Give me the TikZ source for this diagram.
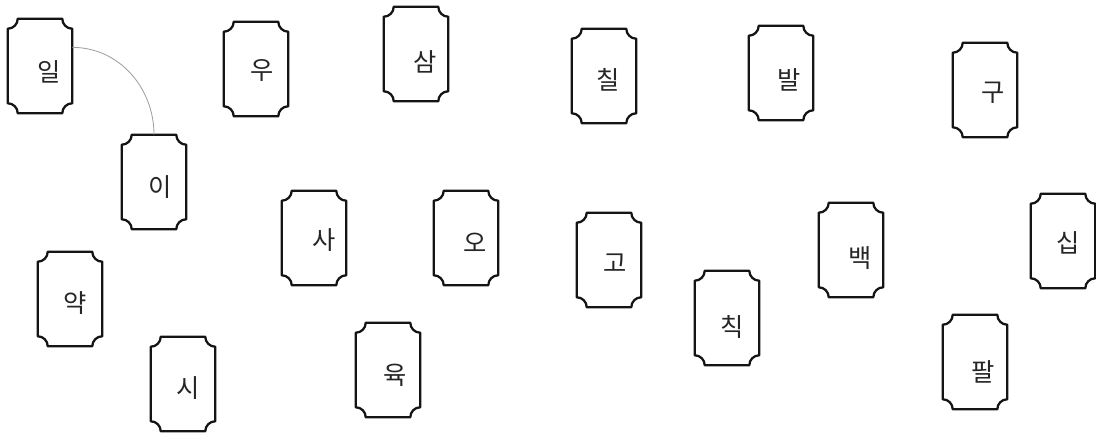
\documentclass[tikz,border=0pt]{standalone}
\usepackage{fontspec}
\newfontfamily\kor{Noto Sans CJK KR}
\usetikzlibrary{positioning}

\begin{document}
\begin{tikzpicture}[
        cardNode/.style={
            minimum width=1.6cm,
            minimum height=2.35cm,
            inner sep=0pt
        },
        cardFrame/.style={
            draw=black!92,
            line width=1.6pt,
            line join=round
        },
        cardText/.style={
            font=\kor\fontsize{18}{20}\selectfont,
            text=black!85,
            inner sep=0pt
        },
        linkEdge/.style={
            draw=gray!75,
            line width=0.6pt
        }
    ]

        \useasboundingbox (0,0) rectangle (27.4,10.85);

        % Top row
        \node[cardNode, label={[cardText, xshift=2.25mm, yshift=-1.5mm]center:일}] (nIl) at (1.00,9.20) {};
        \node[cardNode, label={[cardText, xshift=1.5mm, yshift=-0.25mm]center:우}] (nU) at (6.40,9.125) {};
        \node[cardNode, label={[cardText, xshift=2.25mm, yshift=-2mm]center:삼}] (nSam) at (10.40,9.50) {};
        \node[cardNode, label={[cardText, xshift=1mm, yshift=-1mm]center:칠}] (nChil) at (15.10,8.95) {};
        \node[cardNode, label={[cardText, xshift=2mm, yshift=-1.75mm]center:발}] (nBal) at (19.525,9.025) {};
        \node[cardNode, label={[cardText, xshift=2mm, yshift=-0.75mm]center:구}] (nGu) at (24.625,8.60) {};

        % Middle row
        \node[cardNode, label={[cardText, xshift=1.5mm, yshift=-1.25mm]center:이}] (nI) at (3.85,6.30) {};
        \node[cardNode, label={[cardText, xshift=2.5mm, yshift=-0.5mm]center:사}] (nSa) at (7.85,4.90) {};
        \node[cardNode, label={[cardText, xshift=2.25mm, yshift=-1.25mm]center:오}] (nO) at (11.65,4.90) {};
        \node[cardNode, label={[cardText, xshift=1.5mm, yshift=-0.75mm]center:고}] (nGo) at (15.225,4.35) {};
        \node[cardNode, label={[cardText, xshift=2.25mm, yshift=-2mm]center:백}] (nBaek) at (21.275,4.60) {};
        \node[cardNode, label={[cardText, xshift=1.25mm, yshift=-0.5mm]center:십}] (nSip) at (26.575,4.825) {};

        % Bottom row
        \node[cardNode, label={[cardText, xshift=1.25mm, yshift=-1mm]center:약}] (nYak) at (1.75,3.375) {};
        \node[cardNode, label={[cardText, xshift=1.25mm, yshift=-1mm]center:시}] (nSi) at (4.575,1.25) {};
        \node[cardNode, label={[cardText, xshift=1.75mm, yshift=-1.25mm]center:육}] (nYuk) at (9.70,1.60) {};
        \node[cardNode, label={[cardText, xshift=1.25mm, yshift=-2.25mm]center:칙}] (nChik) at (18.175,2.90) {};
        \node[cardNode, label={[cardText, xshift=2mm, yshift=-2.5mm]center:팔}] (nPal) at (24.375,1.80) {};

        % Card frames with cut-in corners
        \foreach \card in {nIl,nU,nSam,nChil,nBal,nGu,nI,nSa,nO,nGo,nBaek,nSip,nYak,nSi,nYuk,nChik,nPal}
            \draw[cardFrame]
                ([yshift=-2.5mm]\card.north west) arc[start angle=270, end angle=360, radius=2.5mm]
                -- ([xshift=-2.5mm]\card.north east) arc[start angle=180, end angle=270, radius=2.5mm]
                -- ([yshift=2.5mm]\card.south east) arc[start angle=90, end angle=180, radius=2.5mm]
                -- ([xshift=2.5mm]\card.south west) arc[start angle=0, end angle=90, radius=2.5mm]
                -- cycle;

        % Link
        \draw[linkEdge] (nIl.30) to[out=0, in=90] (nI.north);

    \end{tikzpicture}
\end{document}
